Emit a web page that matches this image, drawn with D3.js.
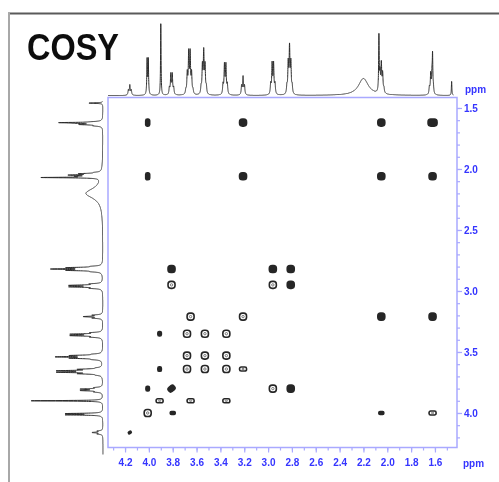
<!DOCTYPE html>
<html>
<head>
<meta charset="utf-8">
<script src="https://cdn.jsdelivr.net/npm/d3@7"></script>
<style>
  body { margin: 0; background: #fff; }
  svg { display: block; }
</style>
</head>
<body>
<svg id="chart"></svg>
<script>
// 1D proton signals (ppm, height in px of the projection, number of lines, J in ppm, line width)
const sigPpm    = [4.16, 4.01, 3.90, 3.81, 3.66, 3.54, 3.36, 3.21, 2.96, 2.82, 2.20, 2.07, 2.05, 1.63, 1.62, 1.46];
const sigHeight = [10,   35,   72,   20,   40,   41,   29,   18,   30,   45,   17,   52,   28,   20,   32,   14];
const sigLines  = [3,    2,    1,    4,    6,    5,    4,    3,    4,    5,    1,    1,    5,    4,    1,    1];
const sigJ      = [0.012,0.01, 0,    0.012,0.012,0.011,0.012,0.012,0.012,0.011,0,    0,    0.011,0.011,0,    0];
const sigWidth  = [0.004,0.003,0.0025,0.004,0.004,0.004,0.004,0.004,0.004,0.004,0.05, 0.0025,0.004,0.004,0.0025,0.0025];

// COSY cross peaks: [F2 ppm, F1 ppm, shape]
const crossPeaks = [
  [4.01, 1.62, "n"], [3.21, 1.62, "F"], [2.05, 1.62, "F"], [1.62, 1.62, "W"],
  [4.01, 2.06, "n"], [3.21, 2.06, "F"], [2.05, 2.06, "F"], [1.62, 2.06, "F"],
  [3.81, 2.82, "F"], [2.96, 2.82, "F"], [2.81, 2.82, "F"],
  [3.81, 2.95, "o"], [2.96, 2.95, "o"], [2.81, 2.95, "F"],
  [3.65, 3.21, "o"], [3.21, 3.21, "o"], [2.05, 3.21, "F"], [1.62, 3.21, "F"],
  [3.91, 3.35, "d"], [3.68, 3.35, "o"], [3.53, 3.35, "o"], [3.35, 3.35, "o"],
  [3.68, 3.53, "o"], [3.53, 3.53, "o"], [3.35, 3.53, "o"],
  [3.91, 3.64, "d"], [3.68, 3.64, "o"], [3.53, 3.64, "o"], [3.35, 3.64, "o"], [3.21, 3.64, "e"],
  [4.01, 3.80, "d"], [3.81, 3.80, "T"], [2.96, 3.80, "o"], [2.81, 3.80, "F"],
  [3.91, 3.90, "e"], [3.65, 3.90, "e"], [3.35, 3.90, "e"],
  [4.01, 4.00, "o"], [3.80, 4.00, "s"], [2.05, 4.00, "s"], [1.62, 4.00, "e"],
  [4.16, 4.16, "t"]
];

const xTicks = [4.2, 4.0, 3.8, 3.6, 3.4, 3.2, 3.0, 2.8, 2.6, 2.4, 2.2, 2.0, 1.8, 1.6];
const yTicks = [1.5, 2.0, 2.5, 3.0, 3.5, 4.0];

const W = 499, H = 482;
const svg = d3.select("#chart").attr("width", W).attr("height", H);

const blur = svg.append("defs").append("filter").attr("id", "soft");
blur.append("feGaussianBlur").attr("stdDeviation", 0.6);

const g = svg.append("g").attr("filter", "url(#soft)");

// outer frame
g.append("line").attr("x1", 8).attr("x2", W).attr("y1", 13.5).attr("y2", 13.5)
  .attr("stroke", "#5a5a5a").attr("stroke-width", 2);
g.append("line").attr("x1", 9).attr("x2", 9).attr("y1", 13).attr("y2", H)
  .attr("stroke", "#a8a8a8").attr("stroke-width", 2);

g.append("text").attr("x", 27).attr("y", 60)
  .attr("font-family", "Liberation Sans, Arial, sans-serif")
  .attr("font-weight", "bold").attr("font-size", 37)
  .attr("textLength", 92).attr("lengthAdjust", "spacingAndGlyphs")
  .attr("fill", "#111").text("COSY");

const x = d3.scaleLinear().domain([4.343, 1.415]).range([108, 457]);
const y = d3.scaleLinear().domain([1.41, 4.287]).range([97, 448]);

const blue = "#3535ff";
const paleBlue = "#a9a9ff";

// plot frame
g.append("rect").attr("x", 108).attr("y", 97.5).attr("width", 349).attr("height", 350)
  .attr("fill", "none").attr("stroke", paleBlue).attr("stroke-width", 1.5);

// intensity of the 1D spectrum at a ppm value
function intensity(p) {
  let s = 0;
  for (let i = 0; i < sigPpm.length; i++) {
    const n = sigLines[i];
    const coef = [];
    for (let k = 0; k < n; k++) coef.push(k == 0 ? 1 : coef[k - 1] * (n - k) / k);
    const cmax = d3.max(coef);
    for (let k = 0; k < n; k++) {
      const c = sigPpm[i] + (k - (n - 1) / 2) * sigJ[i];
      const d = (p - c) / sigWidth[i];
      s += sigHeight[i] * (coef[k] / cmax) / (1 + d * d);
    }
  }
  return s;
}

const ppmGrid = d3.range(1.445, 4.343, 0.0004);
const spec = ppmGrid.map(p => [p, Math.min(intensity(p), 80)]);

// top projection
const topBase = 95.5;
g.append("path").datum(spec)
  .attr("d", d3.line().x(d => x(d[0])).y(d => topBase - d[1]))
  .attr("fill", "none").attr("stroke", "#2a2a2a").attr("stroke-width", 1);

// left projection
const leftBase = 103;
g.append("path").datum(spec.filter(d => d[0] <= 4.34))
  .attr("d", d3.line().x(d => leftBase - d[1]).y(d => y(d[0])))
  .attr("fill", "none").attr("stroke", "#2a2a2a").attr("stroke-width", 1);

// axes
const axisFont = "Liberation Sans, Arial, sans-serif";
const minorX = d3.range(4.3, 1.41, -0.1);
const minorY = d3.range(1.5, 4.29, 0.1);

const xMinor = g.append("g").attr("transform", "translate(0,447.5)")
  .call(d3.axisBottom(x).tickValues(minorX).tickSize(3).tickFormat(""));
const xMajor = g.append("g").attr("transform", "translate(0,447.5)")
  .call(d3.axisBottom(x).tickValues(xTicks).tickSize(5).tickPadding(6).tickFormat(d3.format(".1f")));
const yMinor = g.append("g").attr("transform", "translate(457,0)")
  .call(d3.axisRight(y).tickValues(minorY).tickSize(3).tickFormat(""));
const yMajor = g.append("g").attr("transform", "translate(457,0)")
  .call(d3.axisRight(y).tickValues(yTicks).tickSize(5).tickPadding(2).tickFormat(d3.format(".1f")));

[xMinor, xMajor, yMinor, yMajor].forEach(a => {
  a.select(".domain").remove();
  a.selectAll("line").attr("stroke", paleBlue).attr("stroke-width", 1.2);
  a.selectAll("text").attr("fill", blue).attr("font-family", axisFont)
    .attr("font-weight", "bold").attr("font-size", 10);
});

g.append("text").attr("x", 465).attr("y", 93).attr("fill", blue)
  .attr("font-family", axisFont).attr("font-weight", "bold").attr("font-size", 10).text("ppm");
g.append("text").attr("x", 463).attr("y", 467).attr("fill", blue)
  .attr("font-family", axisFont).attr("font-weight", "bold").attr("font-size", 10).text("ppm");

// cross peaks, drawn as rounded contour blobs
const ink = "#262626";
const shapes = {
  F: { w: 7, h: 7, fill: true },
  W: { w: 9, h: 7, fill: true },
  n: { w: 4, h: 7, fill: true },
  T: { w: 7, h: 5, fill: true, rot: -40 },
  o: { w: 7, h: 7, fill: false },
  d: { w: 3.5, h: 4.5, fill: true },
  e: { w: 7, h: 4, fill: false },
  s: { w: 5, h: 3, fill: true },
  t: { w: 3, h: 2, fill: true, rot: -40 }
};

const peaks = g.append("g").selectAll("g")
  .data(crossPeaks)
  .join("g")
  .attr("transform", d => `translate(${x(d[0])},${y(d[1])}) rotate(${shapes[d[2]].rot || 0})`);

peaks.append("rect")
  .attr("x", d => -shapes[d[2]].w / 2)
  .attr("y", d => -shapes[d[2]].h / 2)
  .attr("width", d => shapes[d[2]].w)
  .attr("height", d => shapes[d[2]].h)
  .attr("rx", d => Math.min(shapes[d[2]].w, shapes[d[2]].h) * 0.4)
  .attr("fill", d => shapes[d[2]].fill ? ink : "#fff")
  .attr("stroke", ink)
  .attr("stroke-width", 1.6);

peaks.filter(d => !shapes[d[2]].fill).append("ellipse")
  .attr("rx", d => shapes[d[2]].w * 0.17)
  .attr("ry", d => shapes[d[2]].h * 0.17)
  .attr("fill", "none")
  .attr("stroke", "#777")
  .attr("stroke-width", 1);
</script>
</body>
</html>
